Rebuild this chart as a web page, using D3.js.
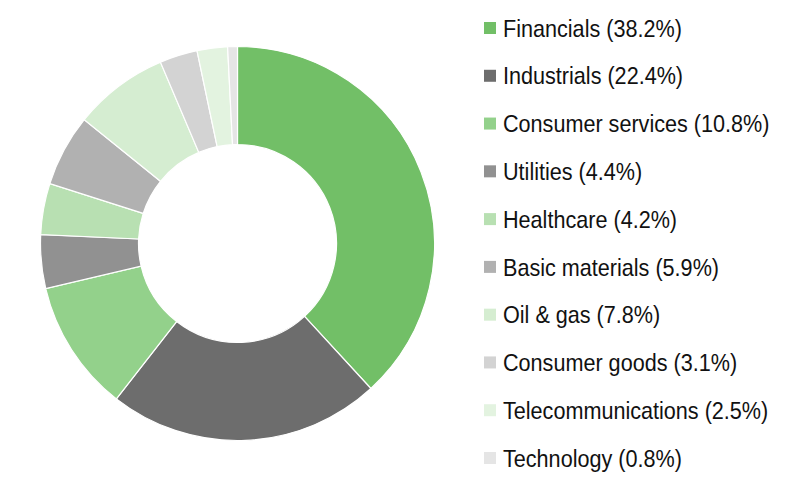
<!DOCTYPE html>
<html><head><meta charset="utf-8">
<script src="https://cdn.jsdelivr.net/npm/d3@7"></script>
<style>body{margin:0;background:#fff}svg{display:block}</style>
</head><body>
<svg id="c" width="800" height="484"></svg>
<script>
const categories = ["Financials","Industrials","Consumer services","Utilities","Healthcare","Basic materials","Oil & gas","Consumer goods","Telecommunications","Technology"];
const values = [38.2,22.4,10.8,4.4,4.2,5.9,7.8,3.1,2.5,0.8];
const colors = ["#72bf67","#6d6d6d","#93d18b","#919191","#b8e0b2","#b1b1b1","#d5edd1","#d3d3d3","#e3f3e0","#e5e5e5"];

const svg = d3.select("#c");
const cx = 237.5, cy = 243.5, R = 197, r = 99;
const pie = d3.pie().sort(null).value(d => d.v);
const data = categories.map((c,i)=>({c, v: values[i], col: colors[i]}));
const arc = d3.arc().innerRadius(r).outerRadius(R);
svg.append("g").attr("transform",`translate(${cx},${cy})`)
  .selectAll("path").data(pie(data)).join("path")
  .attr("d", arc).attr("fill", d=>d.data.col)
  .attr("stroke","#fff").attr("stroke-width",1.2);

const y = d3.scalePoint().domain(categories).range([28,458]);
const lg = svg.append("g");
const row = lg.selectAll("g").data(data).join("g").attr("transform", d=>`translate(0,${y(d.c)})`);
row.append("rect").attr("x",484).attr("y",-6).attr("width",12).attr("height",12).attr("fill",d=>d.col);
row.append("text").attr("transform","translate(503,0) scale(0.9,1)").attr("dy","0.36em")
  .attr("font-family","'Liberation Sans',Arial,sans-serif").attr("font-size",24).attr("fill","#111")
  .text(d=>`${d.c} (${d.v.toFixed(1)}%)`);
</script>
</body></html>
